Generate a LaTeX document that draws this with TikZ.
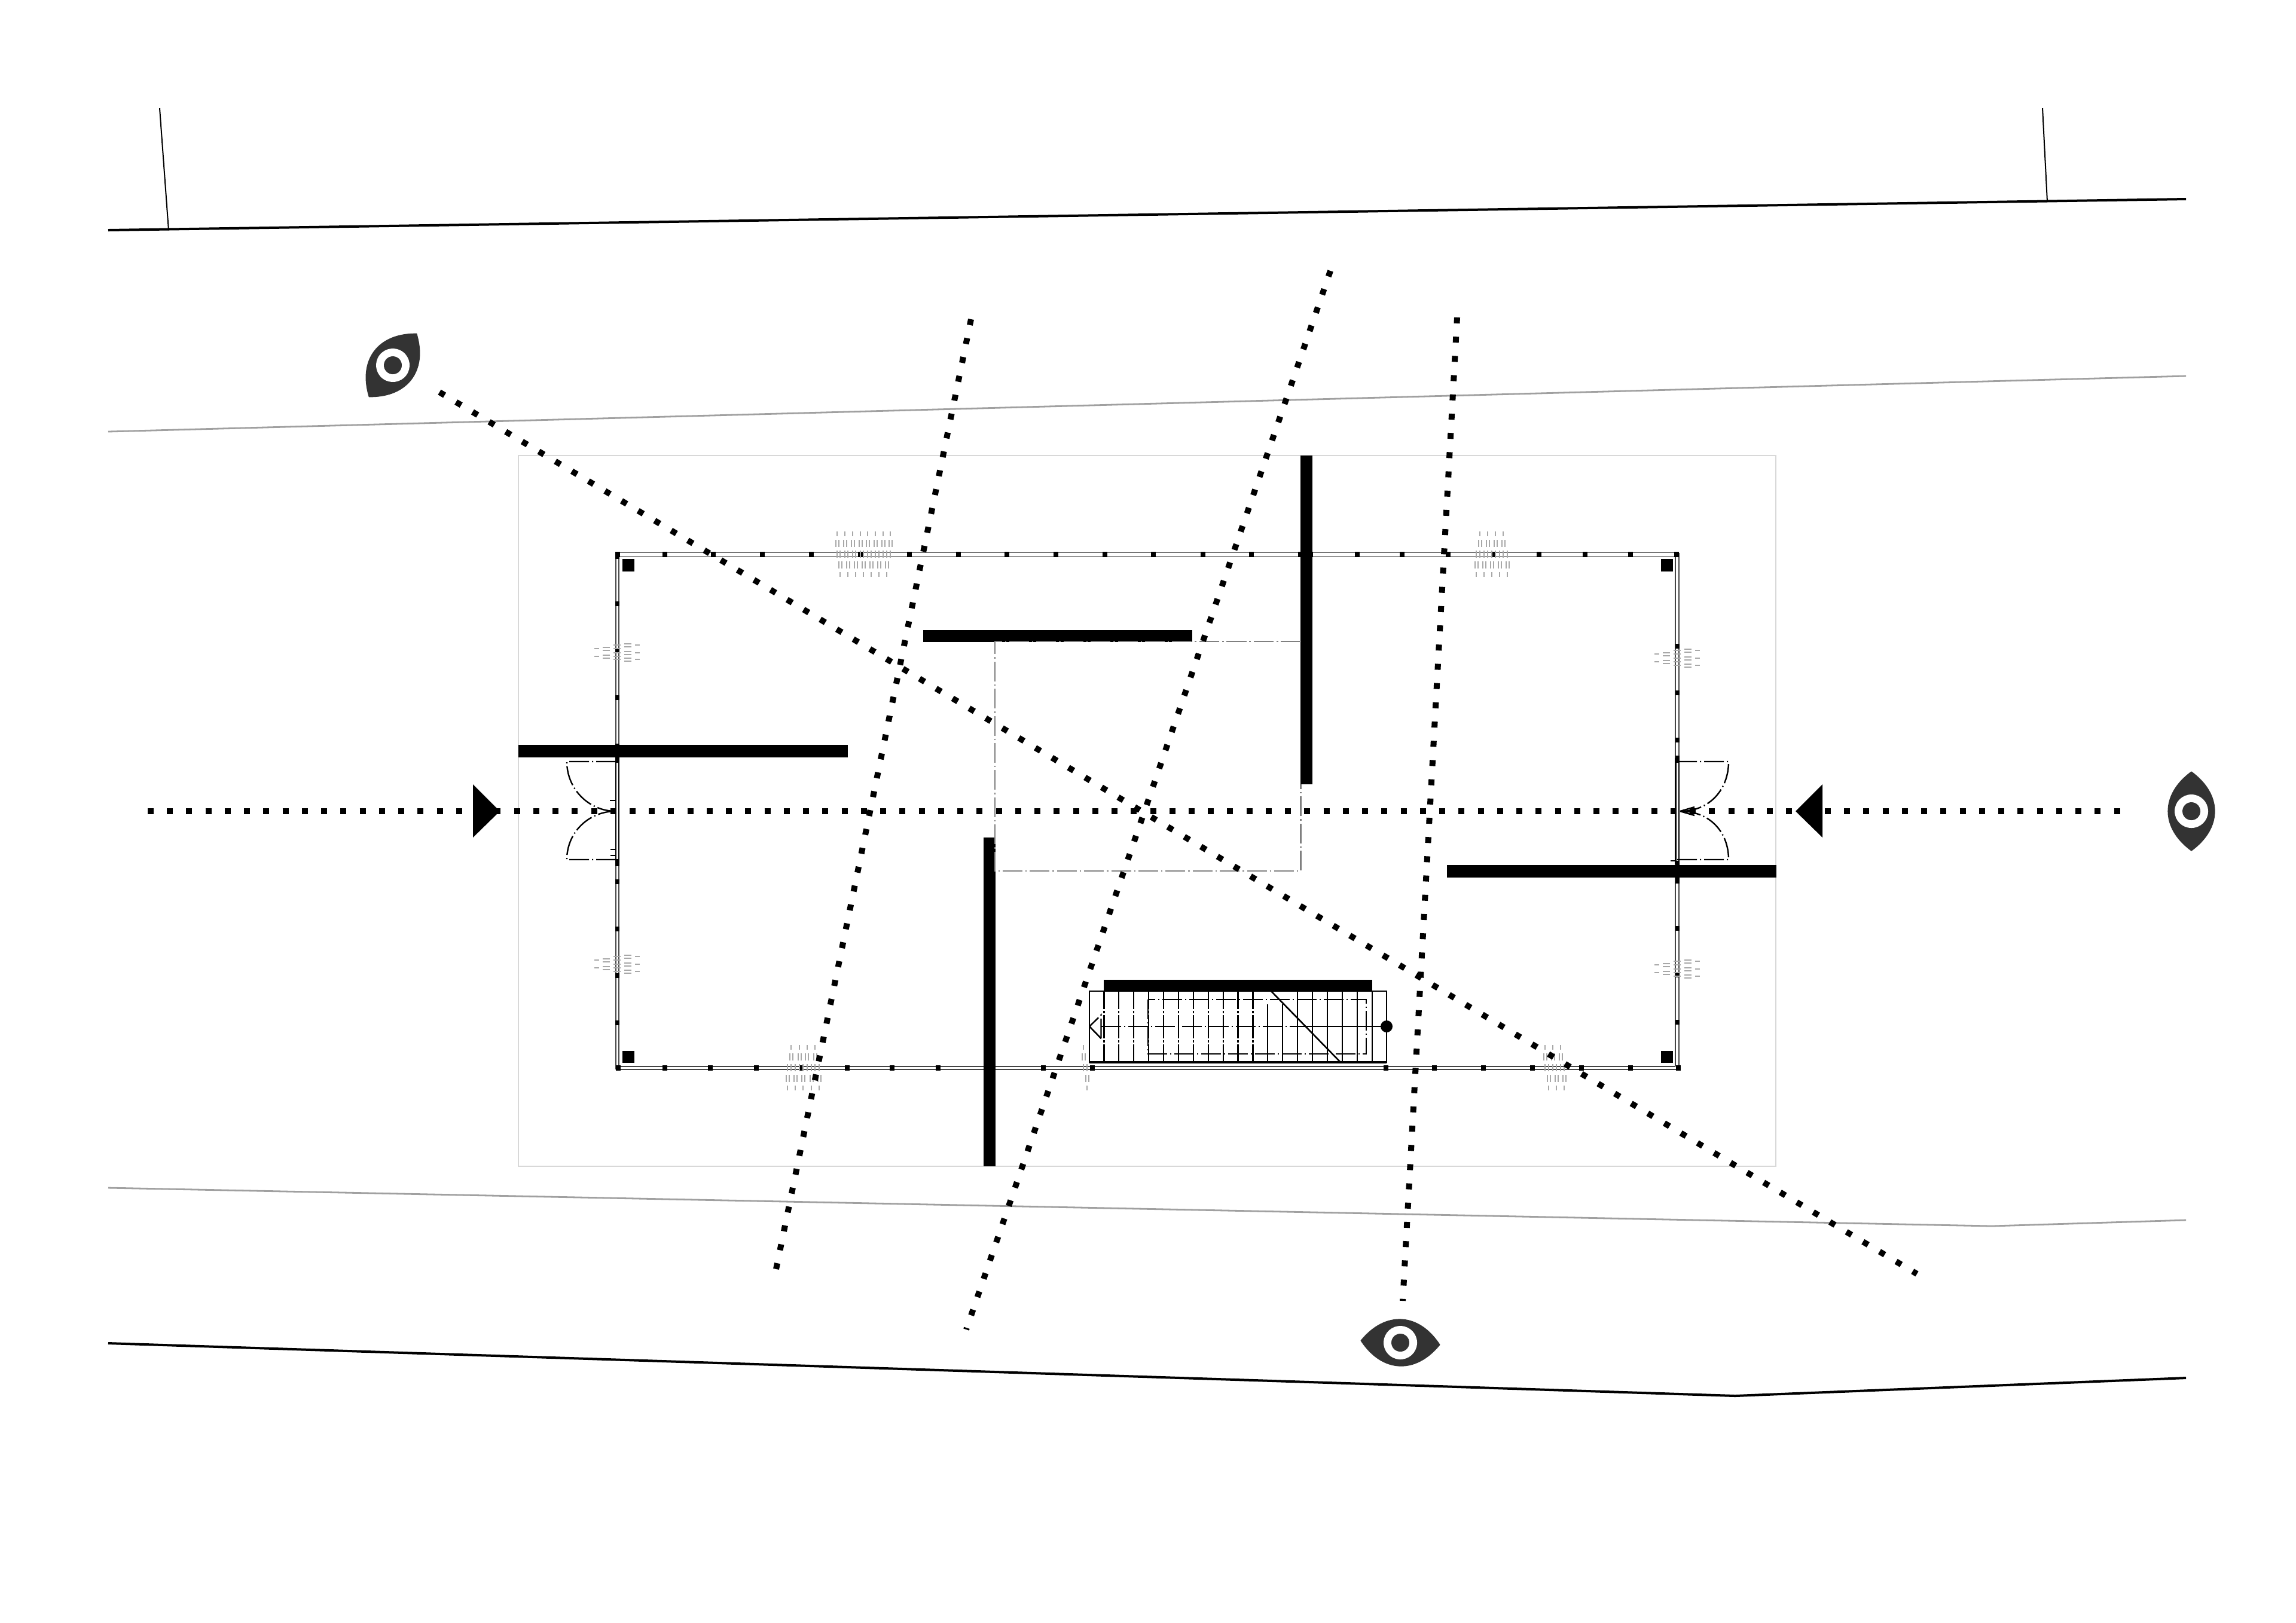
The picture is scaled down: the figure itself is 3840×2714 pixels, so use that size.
\documentclass[tikz,border=0pt]{standalone}
\definecolor{eyegray}{HTML}{333333}
\definecolor{wallgray}{HTML}{444444}
\definecolor{markgray}{HTML}{A8A8A8}
\definecolor{sitegray}{HTML}{D8D8D8}
\definecolor{linegray}{HTML}{A0A0A0}
\definecolor{cadgray}{HTML}{808080}
\tikzset{
  road/.style={line width=1pt,black},
  plotline/.style={line width=0.5pt,black},
  greyline/.style={line width=0.7pt,linegray},
  site/.style={line width=0.5pt,sitegray},
  wallline/.style={line width=0.42pt,wallgray},
  thickwall/.style={fill=black},
  cadline/.style={line width=0.6pt,black,dash pattern=on 8.25pt off 1.25pt on .5pt off 1.25pt},
  cadgrey/.style={line width=0.65pt,cadgray,dash pattern=on 8.25pt off 1.25pt on .6pt off 1.25pt},
  viewline/.style={line width=2.5pt,black,dash pattern=on 2.5pt off 5.56pt},
  tread/.style={line width=0.55pt,black},
  tick/.style={line width=0.5pt,markgray},
  jamb/.style={line width=0.62pt,black},
}
\newcommand{\eyeglyph}[3]{%
  \begin{scope}[shift={(#1,#2)},rotate=#3]
    \fill[eyegray,draw=eyegray,line width=0.3pt,line join=round] (-66,0) .. controls (-28,-52) and (28,-52) .. (66,0) .. controls (28,52) and (-28,52) .. (-66,0) -- cycle;
    \fill[white] (0,0) circle (28);
    \fill[eyegray] (0,0) circle (15);
  \end{scope}}
\newcommand{\hmarks}[3]{% cy, upper xs, lower xs
  \foreach \a in {#2}{
    \draw[tick] (\a,#1-38) -- (\a,#1-30);
    \draw[tick] (\a-2.5,#1-24) -- (\a-2.5,#1-12);
    \draw[tick] (\a+2.5,#1-24) -- (\a+2.5,#1-12);
    \draw[tick] (\a,#1-6) -- (\a,#1+6);
  }
  \foreach \a in {#3}{
    \draw[tick] (\a,#1+30) -- (\a,#1+38);
    \draw[tick] (\a-2.5,#1+12) -- (\a-2.5,#1+24);
    \draw[tick] (\a+2.5,#1+12) -- (\a+2.5,#1+24);
    \draw[tick] (\a,#1-6) -- (\a,#1+6);
  }}
\newcommand{\vmarks}[3]{% cx, left ys, right ys
  \foreach \a in {#2}{
    \draw[tick] (#1-38,\a) -- (#1-30,\a);
    \draw[tick] (#1-24,\a-2.5) -- (#1-12,\a-2.5);
    \draw[tick] (#1-24,\a+2.5) -- (#1-12,\a+2.5);
    \draw[tick] (#1-6,\a) -- (#1+6,\a);
  }
  \foreach \a in {#3}{
    \draw[tick] (#1+30,\a) -- (#1+38,\a);
    \draw[tick] (#1+12,\a-2.5) -- (#1+24,\a-2.5);
    \draw[tick] (#1+12,\a+2.5) -- (#1+24,\a+2.5);
    \draw[tick] (#1-6,\a) -- (#1+6,\a);
  }}
\begin{document}
\begin{tikzpicture}[x=0.25pt,y=-0.25pt]
\useasboundingbox (0,0) rectangle (3840,2714);
\fill[white] (0,0) rectangle (3840,2714);
% roads and plot lines
\draw[road] (181,385) -- (3656,333);
\draw[road] (181,2247) -- (2902,2335) -- (3656,2305);
\draw[plotline] (267,181) -- (282,385);
\draw[plotline] (3416,181) -- (3424,338);
\draw[greyline] (181,722) -- (3656,629);
\draw[greyline] (181,1987) -- (3331,2051) -- (3656,2041);
% site
\draw[site] (867,762) rectangle (2970,1951);
% building outline
\draw[wallline] (1030,924.5) -- (2808,924.5);
\draw[wallline] (1035,930.5) -- (2802,930.5);
\draw[wallline] (1030,1789) -- (2808,1789);
\draw[wallline] (1035,1784) -- (2802,1784);
\draw[wallline] (1030,924.5) -- (1030,1789);
\draw[wallline] (1035,930.5) -- (1035,1784);
\draw[wallline] (2802,930.5) -- (2802,1784);
\draw[wallline] (2808,924.5) -- (2808,1789);
% posts
\foreach \p in {1033,1112,1193,1275,1357,1439,1521,1603,1684,1766,1848,1929,2012,2093,2175,2192,2270,2345,2422,2498,2574,2651,2727,2804}
  \fill[black] (\p-4,923) rectangle (\p+4,932);
\foreach \p in {1034,1112,1188,1265,1340,1417,1492,1569,1654,1745,1827,2318,2399,2481,2563,2645,2727,2807}
  \fill[black] (\p-4,1782) rectangle (\p+4,1791);
\foreach \p in {931,1009.5,1088,1167,1475,1554,1632,1711}
  \fill[black] (1029,\p-4) rectangle (1036,\p+4);
\foreach \p in {1081,1159,1238,1474,1553,1631,1710}
  \fill[black] (2801.5,\p-4) rectangle (2808.5,\p+4);
\fill[black] (1029,1244) rectangle (1036,1276);
\fill[black] (1029,1437) rectangle (1036,1449);
\fill[black] (2801.5,1264) rectangle (2808.5,1276);
\fill[black] (2801.5,1440) rectangle (2808.5,1470);
% corner columns
\fill[black] (1041,935) rectangle (1061,956);
\fill[black] (2778,935) rectangle (2798,956);
\fill[black] (1041,1758) rectangle (1061,1778);
\fill[black] (2778,1758) rectangle (2798,1778);
% window marks
\hmarks{927}{1400,1413,1426,1439,1451,1464,1477,1489}{1405,1418,1431,1444,1457,1470,1483}
\hmarks{927}{2475,2488,2501,2514}{2469,2482,2495,2508,2521}
\hmarks{1786}{1323,1337,1349.5,1363}{1317,1330,1343,1357,1370}
\hmarks{1786}{2584,2597,2610}{2590,2603,2616}
\hmarks{1786}{1812}{1818}
\vmarks{1032}{1085,1098}{1079,1092,1103}
\vmarks{1032}{1606,1619}{1600,1613,1625}
\vmarks{2805}{1094,1107}{1088,1101,1113}
\vmarks{2805}{1614,1627}{1608,1621,1633}
% doors
\draw[jamb] (1030,1276) -- (1030,1440);
\draw[jamb] (1035,1276) -- (1035,1440);
\draw[jamb] (2802.5,1268) -- (2802.5,1445);
\draw[jamb] (2808,1268) -- (2808,1445);
\draw[cadline] (1030,1274) -- (948,1274) .. controls (948,1320) and (985,1357) .. (1030,1357);
\draw[cadline] (1030,1438) -- (948,1438) .. controls (948,1392) and (985,1357) .. (1030,1357);
\draw[cadline] (2805,1274) -- (2891,1274) .. controls (2891,1320) and (2860,1357) .. (2810,1357);
\draw[cadline] (2805,1438) -- (2891,1438) .. controls (2891,1392) and (2860,1357) .. (2810,1357);
\draw[jamb] (1020,1339) -- (1030,1339);
\draw[jamb] (1021,1421) -- (1030,1421);
\draw[jamb] (1021,1431) -- (1030,1431);
\draw[jamb] (2794,1440) -- (2802,1440);
\draw[jamb] (2810,1357) -- (2834,1350);
\draw[jamb] (2810,1357) -- (2834,1364);
% stairs
\foreach \k in {0,...,18}{
  \pgfmathsetmacro{\tx}{1846.4+24.9*\k}
  \ifnum\k=11 \draw[tread] (\tx,1680) -- (\tx,1777);
  \else\ifnum\k=12 \draw[tread] (\tx,1680) -- (\tx,1777);
  \else \draw[tread] (\tx,1658) -- (\tx,1777);
  \fi\fi
}
\foreach \k in {0,...,10}{
  \pgfmathsetmacro{\tx}{1846.4+24.9*\k}
  \draw[white,line width=0.9pt] (\tx,1688) -- (\tx,1691);
  \draw[white,line width=0.9pt] (\tx,1695) -- (\tx,1698);
  \draw[white,line width=0.9pt] (\tx,1737) -- (\tx,1740);
  \draw[white,line width=0.9pt] (\tx,1744) -- (\tx,1747);
}
\draw[line width=0.65pt,black] (1822,1658) rectangle (2319,1777);
\draw[line width=0.9pt,black] (1822,1777) -- (2319,1777);
\draw[cadline] (1920,1672) rectangle (2285,1763);
\draw[cadline] (1841.5,1717) -- (2184,1717);
\draw[line width=0.55pt,black] (2184,1717) -- (2319,1717);
\draw[line width=0.65pt,black] (2126,1658) -- (2242,1777);
\draw[line width=0.65pt,black] (1822,1717) -- (1841.5,1737);
\draw[cadline] (1841.5,1737) -- (1841.5,1698) -- (1822,1717);
\fill[black] (2319,1717) circle (10);
% thick walls
\fill[thickwall] (867,1246) rectangle (1418,1267);
\fill[thickwall] (2420,1447) rectangle (2971,1468);
\fill[thickwall] (1544,1054) rectangle (1994,1074);
\fill[thickwall] (2175,762) rectangle (2195,1312);
\fill[thickwall] (1644.5,1401) rectangle (1664.5,1951);
\fill[thickwall] (1845.5,1639) rectangle (2295,1658);
% central void
\draw[cadgrey] (2175,1073) -- (1664,1073) -- (1664,1457) -- (2175.5,1457) -- (2175.5,1312);
\draw[cadgrey] (2175.5,1073) -- (1994,1073);
% view lines
\draw[viewline] (247,1357) -- (3546,1357);
\draw[viewline] (735,656) -- (3206,2131);
\draw[viewline] (1624,534) -- (1298,2123);
\draw[viewline] (2225,453) -- (1616,2224);
\draw[viewline] (2437,531) -- (2346,2176);
% arrowheads
\fill[black] (791,1312) -- (836,1357) -- (791,1401) -- cycle;
\fill[black] (3048,1312) -- (3003,1357) -- (3048,1401) -- cycle;
% eyes
\eyeglyph{657}{611}{53}
\eyeglyph{3665}{1357}{90}
\eyeglyph{2342}{2246}{-3}
\end{tikzpicture}
\end{document}
